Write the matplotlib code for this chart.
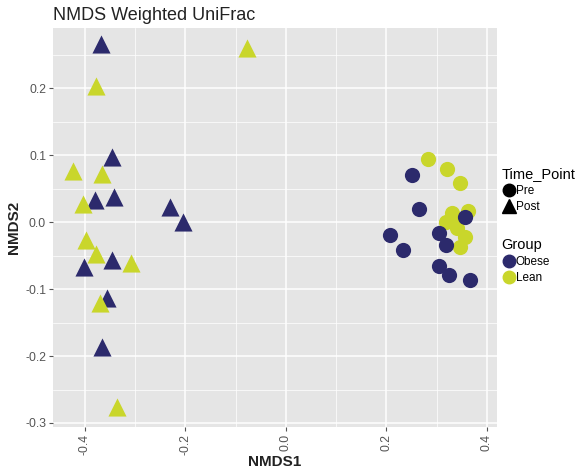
import matplotlib
matplotlib.use("Agg")
import matplotlib.pyplot as plt
from matplotlib.lines import Line2D
from matplotlib.ticker import MultipleLocator

plt.rcParams["font.family"] = ["Liberation Sans", "DejaVu Sans"]

# ── Data ────────────────────────────────────────────────────────────────────
obese_post_x = [-0.367, -0.345, -0.379, -0.341, -0.230, -0.204, -0.345, -0.401, -0.355, -0.365]
obese_post_y = [0.266, 0.097, 0.033, 0.037, 0.022, 0.000, -0.057, -0.067, -0.113, -0.186]

lean_post_x = [-0.077, -0.377, -0.423, -0.365, -0.403, -0.397, -0.377, -0.307, -0.369, -0.336]
lean_post_y = [0.260, 0.204, 0.076, 0.072, 0.027, -0.027, -0.048, -0.061, -0.121, -0.276]

obese_pre_x = [0.250, 0.264, 0.356, 0.207, 0.233, 0.304, 0.319, 0.304, 0.324, 0.367]
obese_pre_y = [0.070, 0.019, 0.008, -0.019, -0.042, -0.016, -0.034, -0.066, -0.079, -0.087]

lean_pre_x = [0.283, 0.320, 0.347, 0.330, 0.363, 0.318, 0.341, 0.357, 0.347, 0.335]
lean_pre_y = [0.095, 0.079, 0.059, 0.013, 0.016, 0.000, -0.009, -0.022, -0.037, 0.005]

x_ticks = [-0.4, -0.2, 0.0, 0.2, 0.4]
y_ticks = [-0.3, -0.2, -0.1, 0.0, 0.1, 0.2]

OBESE = "#2c2a6c"
LEAN = "#c9d62b"
BG = "#e5e5e5"

fig = plt.figure(figsize=(5.83, 4.71), dpi=100)
ax = fig.add_axes([0.0909, 0.0934, 0.7616, 0.8472])
ax.set_facecolor(BG)

ax.scatter(obese_post_x, obese_post_y, marker="^", s=170, color=OBESE, linewidths=0, zorder=3)
ax.scatter(lean_post_x, lean_post_y, marker="^", s=170, color=LEAN, linewidths=0, zorder=3)
ax.scatter(lean_pre_x, lean_pre_y, marker="o", s=120, color=LEAN, linewidths=0, zorder=3)
ax.scatter(obese_pre_x, obese_pre_y, marker="o", s=120, color=OBESE, linewidths=0, zorder=3)

ax.set_xlim(-0.463, 0.42)
ax.set_ylim(-0.306, 0.29)
ax.set_xticks(x_ticks)
ax.set_yticks(y_ticks)
ax.set_xticklabels([f"{v:.1f}" for v in x_ticks], rotation=90)
ax.set_yticklabels([f"{v:.1f}" for v in y_ticks])
ax.xaxis.set_minor_locator(MultipleLocator(0.1))
ax.yaxis.set_minor_locator(MultipleLocator(0.05))
ax.grid(True, which="major", color="white", linewidth=1.1, zorder=0)
ax.grid(True, which="minor", color="white", linewidth=0.5, zorder=0)
ax.set_axisbelow(True)
for sp in ax.spines.values():
    sp.set_visible(False)
ax.tick_params(which="major", length=3, color="#555555", labelsize=8.8, labelcolor="#555555", pad=2)
ax.tick_params(which="minor", length=0)

ax.set_xlabel("NMDS1", fontsize=11, fontweight="bold", color="#222222", labelpad=0)
ax.set_ylabel("NMDS2", fontsize=11, fontweight="bold", color="#222222", labelpad=3)
fig.text(0.0909, 0.968, "NMDS Weighted UniFrac", fontsize=13, color="#222222", va="center")

# ── Legends ──────────────────────────────────────────────────────────────────
tp_handles = [
    Line2D([], [], marker="o", color="black", linestyle="none", markersize=9),
    Line2D([], [], marker="^", color="black", linestyle="none", markersize=10),
]
leg1 = fig.legend(tp_handles, ["Pre", "Post"], title="Time_Point",
                  loc="upper left", bbox_to_anchor=(0.852, 0.655), frameon=False,
                  fontsize=8.5, title_fontsize=10.5, handletextpad=0.0,
                  labelspacing=0.35, borderaxespad=0, handlelength=1.2)
leg1._legend_box.align = "left"

gr_handles = [
    Line2D([], [], marker="o", color=OBESE, linestyle="none", markersize=9),
    Line2D([], [], marker="o", color=LEAN, linestyle="none", markersize=9),
]
leg2 = fig.legend(gr_handles, ["Obese", "Lean"], title="Group",
                  loc="upper left", bbox_to_anchor=(0.852, 0.505), frameon=False,
                  fontsize=8.5, title_fontsize=10.5, handletextpad=0.0,
                  labelspacing=0.35, borderaxespad=0, handlelength=1.2)
leg2._legend_box.align = "left"

fig.savefig("out.png", dpi=100)
